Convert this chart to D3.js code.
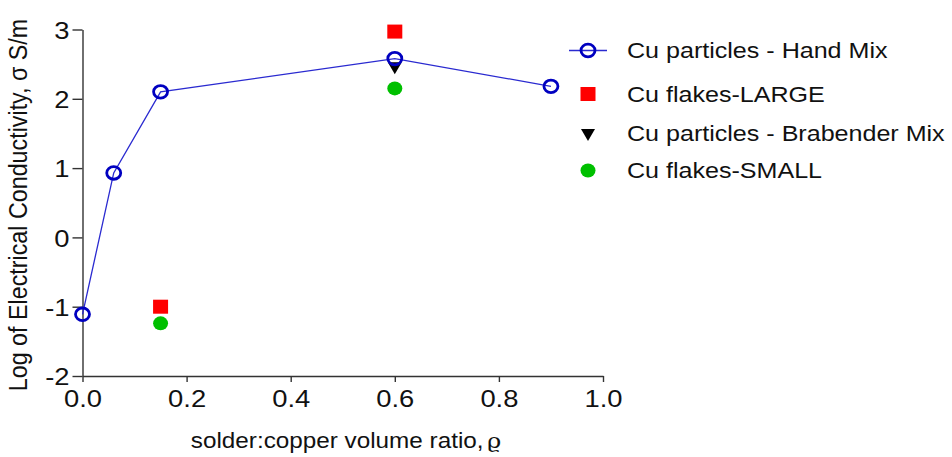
<!DOCTYPE html>
<html>
<head>
<meta charset="utf-8">
<script src="https://cdn.jsdelivr.net/npm/d3@7"></script>
<style>
  body { margin: 0; background: #fff; }
  svg text { font-family: "Liberation Sans", Arial, sans-serif; fill: #111; }
</style>
</head>
<body>
<svg id="chart" width="952" height="457"></svg>
<script>
// data
var handMixX = [0, 0.06, 0.15, 0.6, 0.9];
var handMixY = [-1.11, 0.93, 2.1, 2.58, 2.18];
var largeX = [0.15, 0.6];
var largeY = [-1.0, 2.97];
var brabenderX = [0.6];
var brabenderY = [2.47];
var smallX = [0.15, 0.6];
var smallY = [-1.24, 2.15];

var xTicks = [0, 0.2, 0.4, 0.6, 0.8, 1.0];
var yTicks = [-2, -1, 0, 1, 2, 3];
var legendNames = ["Cu particles - Hand Mix", "Cu flakes-LARGE", "Cu particles - Brabender Mix", "Cu flakes-SMALL"];

var svg = d3.select("#chart");

// the original picture is a bit wider than tall, text gets the same stretch
var sx = 1.14;

var x = d3.scaleLinear().domain([0, 1]).range([82.5, 603]);
var y = d3.scaleLinear().domain([-2, 3]).range([376, 29.5]);

// minor ticks placed like a log decade inside every unit
var yMinor = [];
yTicks.slice(0, -1).forEach(function(n){
    for (var k = 2; k <= 9; k++) yMinor.push(n + Math.log10(k));
});

var axisColor = "#333";

// y axis
var gy = svg.append("g")
    .attr("transform", "translate(" + x(0) + ",0)");
gy.call(d3.axisLeft(y).tickValues(yMinor).tickSize(6).tickSizeOuter(0).tickFormat(""));
gy.call(d3.axisLeft(y).tickValues(yTicks).tickSize(10).tickSizeOuter(0).tickPadding(3)
    .tickFormat(function(d){ return d < 0 ? "-" + Math.abs(d) : d; }));
gy.selectAll("text")
    .style("font-size", "24px")
    .attr("dy", "0.36em")
    .attr("x", -13 / sx)
    .attr("transform", "scale(" + sx + ",1)");

// x axis
var gx = svg.append("g")
    .attr("transform", "translate(0," + y(-2) + ")");
gx.call(d3.axisBottom(x).tickValues(xTicks).tickSize(6).tickSizeOuter(0).tickPadding(8)
    .tickFormat(d3.format(".1f")));
gx.selectAll("text")
    .style("font-size", "24px")
    .attr("transform", "scale(" + sx + ",1)");

svg.selectAll(".domain, .tick line").attr("stroke", axisColor).attr("stroke-width", 1.4);

// axis titles
svg.append("text")
    .attr("transform", "translate(27,205) scale(" + sx + ",1) rotate(-90)")
    .attr("text-anchor", "middle")
    .style("font-size", "23.3px")
    .text("Log of Electrical Conductivity, σ S/m");

var xt = svg.append("text")
    .attr("transform", "translate(346,448) scale(" + sx + ",1)")
    .attr("text-anchor", "middle")
    .style("font-size", "21.3px");
xt.append("tspan").text("solder:copper volume ratio,");
xt.append("tspan").style("font-family", "DejaVu Serif").attr("dx", 3).text("ϱ");

// markers
var triangle = d3.symbol().type(d3.symbolTriangle).size(85);

function drawTri(g, cx, cy){
    g.append("path").attr("d", triangle())
        .attr("transform", "translate(" + cx + "," + cy + ") rotate(180)")
        .attr("fill", "#000");
}
function drawSquare(g, cx, cy){
    g.append("rect").attr("x", cx - 7.5).attr("y", cy - 7)
        .attr("width", 15).attr("height", 14).attr("fill", "#ff0000");
}
function drawDot(g, cx, cy){
    g.append("ellipse").attr("cx", cx).attr("cy", cy).attr("rx", 7.5).attr("ry", 7).attr("fill", "#00c000");
}
function drawRing(g, cx, cy){
    g.append("ellipse").attr("cx", cx).attr("cy", cy).attr("rx", 7).attr("ry", 6.3)
        .attr("fill", "none").attr("stroke", "#0000c0").attr("stroke-width", 2.8);
}

var marks = svg.append("g");

largeX.forEach(function(d, i){ drawSquare(marks, x(d), y(largeY[i])); });
smallX.forEach(function(d, i){ drawDot(marks, x(d), y(smallY[i])); });
brabenderX.forEach(function(d, i){ drawTri(marks, x(d), y(brabenderY[i])); });

var line = d3.line()
    .x(function(d){ return x(d[0]); })
    .y(function(d){ return y(d[1]); });

marks.append("path")
    .datum(handMixX.map(function(d, i){ return [d, handMixY[i]]; }))
    .attr("d", line)
    .attr("fill", "none")
    .attr("stroke", "#2a2ad0")
    .attr("stroke-width", 1.3);

handMixX.forEach(function(d, i){ drawRing(marks, x(d), y(handMixY[i])); });

// legend
var legY = [50.5, 94, 133, 170.5];
var lg = svg.append("g");
lg.append("line").attr("x1", 569).attr("x2", 607).attr("y1", legY[0]).attr("y2", legY[0])
    .attr("stroke", "#2a2ad0").attr("stroke-width", 1.3);
drawRing(lg, 588, legY[0]);
drawSquare(lg, 588, legY[1]);
drawTri(lg, 588, legY[2]);
drawDot(lg, 588, legY[3]);

lg.selectAll("text.leg")
    .data(legendNames)
    .enter().append("text")
    .attr("class", "leg")
    .attr("transform", function(d, i){ return "translate(627," + legY[i] + ") scale(" + sx + ",1)"; })
    .attr("dy", "0.36em")
    .style("font-size", "22px")
    .text(function(d){ return d; });
</script>
</body>
</html>
